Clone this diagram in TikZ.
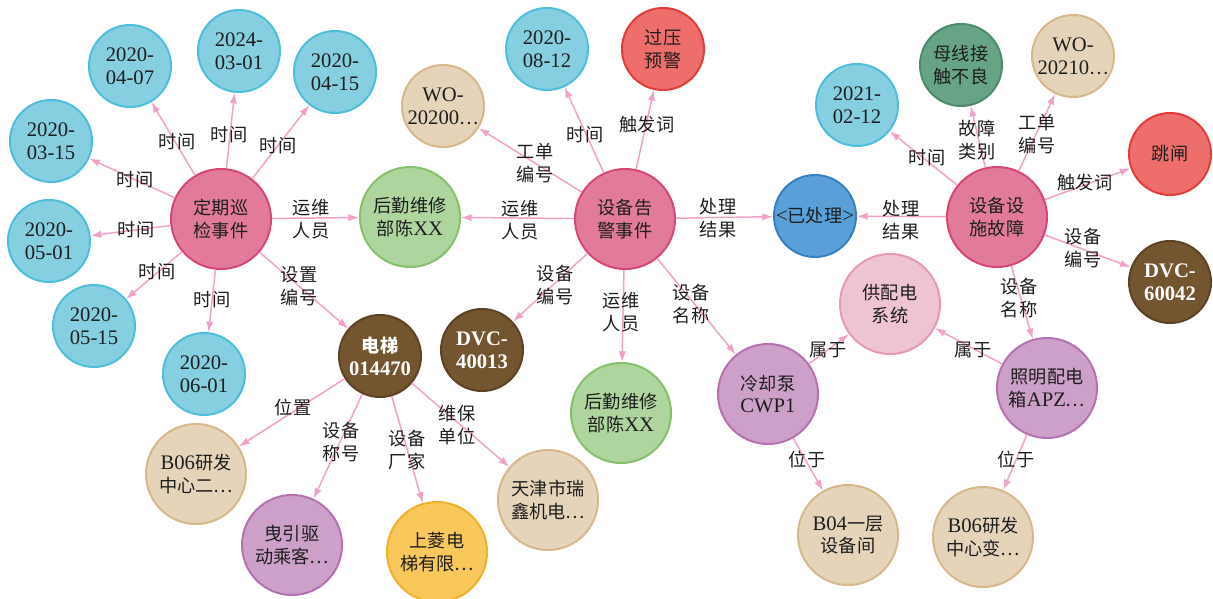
\documentclass[tikz,border=0pt]{standalone}
\usepackage{fontspec}
\setmainfont{Liberation Serif}
\newfontfamily\cjk[Scale=0.88]{Noto Sans CJK SC}
\usepackage{tikz}
\usetikzlibrary{arrows.meta}

\definecolor{evtfill}{RGB}{226,123,153}
\definecolor{evtline}{RGB}{214,70,118}
\definecolor{datefill}{RGB}{134,207,224}
\definecolor{dateline}{RGB}{78,190,218}
\definecolor{grnfill}{RGB}{174,213,158}
\definecolor{grnline}{RGB}{134,192,108}
\definecolor{tanfill}{RGB}{229,212,186}
\definecolor{tanline}{RGB}{214,184,138}
\definecolor{redfill}{RGB}{238,110,107}
\definecolor{redline}{RGB}{227,60,60}
\definecolor{brnfill}{RGB}{115,85,48}
\definecolor{brnline}{RGB}{94,66,36}
\definecolor{bluefill}{RGB}{90,160,216}
\definecolor{blueline}{RGB}{58,126,194}
\definecolor{purfill}{RGB}{204,160,200}
\definecolor{purline}{RGB}{182,114,176}
\definecolor{pnkfill}{RGB}{238,196,210}
\definecolor{pnkline}{RGB}{228,154,181}
\definecolor{mossfill}{RGB}{103,163,133}
\definecolor{mossline}{RGB}{76,139,108}
\definecolor{yelfill}{RGB}{249,200,90}
\definecolor{yelline}{RGB}{237,178,42}
\definecolor{linkcol}{RGB}{243,160,198}
\definecolor{txtcol}{RGB}{30,30,30}

\tikzset{
  ent/.style={circle, line width=1.5pt, minimum size=75pt, inner sep=0pt,
    align=center, text=txtcol, font=\fontsize{15.5}{17}\selectfont},
  sml/.style={ent, minimum size=61.5pt},
  evt/.style={ent, fill=evtfill, draw=evtline},
  date/.style={sml, fill=datefill, draw=dateline},
  grn/.style={ent, fill=grnfill, draw=grnline},
  tan/.style={ent, fill=tanfill, draw=tanline},
  tans/.style={sml, fill=tanfill, draw=tanline},
  reds/.style={sml, fill=redfill, draw=redline},
  brn/.style={sml, fill=brnfill, draw=brnline, text=white,
    font=\fontsize{15.5}{17}\selectfont\bfseries},
  blu/.style={sml, fill=bluefill, draw=blueline},
  pur/.style={ent, fill=purfill, draw=purline},
  pnk/.style={ent, fill=pnkfill, draw=pnkline},
  moss/.style={sml, fill=mossfill, draw=mossline},
  yel/.style={ent, fill=yelfill, draw=yelline},
  link/.style={draw=linkcol, line width=1.1pt, -{Latex[length=8pt,width=5.5pt]}},
  lbl/.style={inner sep=0pt, align=center, text=txtcol,
    font=\fontsize{15.5}{17}\selectfont}
}

\begin{document}
\begin{tikzpicture}[x=0.75pt,y=0.75pt,yscale=-1,xscale=1]
\useasboundingbox (0,0) rectangle (1213,599);

% left event
\node[evt] (dq) at (221,219) {{\cjk 定期巡}\\{\cjk 检事件}};
\node[date] (d0407) at (130,66) {2020-\\04-07};
\node[date] (d0301) at (239,51) {2024-\\03-01};
\node[date] (d0415) at (335,72) {2020-\\04-15};
\node[date] (d0315) at (51,141) {2020-\\03-15};
\node[date] (d0501) at (49,241) {2020-\\05-01};
\node[date] (d0515) at (94,326) {2020-\\05-15};
\node[date] (d0601) at (204,374) {2020-\\06-01};
\node[grn] (hq1) at (410,217) {{\cjk 后勤维修}\\{\cjk 部陈}XX};
\node[brn] (dt) at (380,356) {{\cjk 电梯}\\014470};
\node[tan] (b06a) at (196,474) {B06{\cjk 研发}\\{\cjk 中心二…}};
\node[pur] (yy) at (292,545) {{\cjk 曳引驱}\\{\cjk 动乘客…}};
\node[yel] (sl) at (437,552) {{\cjk 上菱电}\\{\cjk 梯有限…}};
\node[tan] (tj) at (548,500) {{\cjk 天津市瑞}\\{\cjk 鑫机电…}};

% middle event
\node[evt] (gj) at (625,219) {{\cjk 设备告}\\{\cjk 警事件}};
\node[brn] (dvc4) at (482,350) {DVC-\\40013};
\node[tans] (wo0) at (443,106) {WO-\\20200{\cjk …}};
\node[date] (d0812) at (547,49) {2020-\\08-12};
\node[reds] (gy) at (663,49) {{\cjk 过压}\\{\cjk 预警}};
\node[grn] (hq2) at (621,413) {{\cjk 后勤维修}\\{\cjk 部陈}XX};
\node[blu] (ycl) at (815,216) {<{\cjk 已处理}>};
\node[pur] (lq) at (768,394) {{\cjk 冷却泵}\\CWP1};
\node[pnk] (gpd) at (890,304) {{\cjk 供配电}\\{\cjk 系统}};
\node[tan] (b04) at (848,535) {B04{\cjk 一层}\\{\cjk 设备间}};

% right event
\node[evt] (gz) at (997,217) {{\cjk 设备设}\\{\cjk 施故障}};
\node[date] (d0212) at (857,105) {2021-\\02-12};
\node[moss] (mx) at (961,65) {{\cjk 母线接}\\{\cjk 触不良}};
\node[tans] (wo1) at (1073,56) {WO-\\20210{\cjk …}};
\node[reds] (tz) at (1170,154) {{\cjk 跳闸}};
\node[brn] (dvc6) at (1170,282) {DVC-\\60042};
\node[pur] (zm) at (1047,388) {{\cjk 照明配电}\\{\cjk 箱}APZ{\cjk …}};
\node[tan] (b06b) at (983,537) {B06{\cjk 研发}\\{\cjk 中心变…}};

% links
\draw[link] (dq) -- (d0407);
\draw[link] (dq) -- (d0301);
\draw[link] (dq) -- (d0415);
\draw[link] (dq) -- (d0315);
\draw[link] (dq) -- (d0501);
\draw[link] (dq) -- (d0515);
\draw[link] (dq) -- (d0601);
\draw[link] (dq) -- (hq1);
\draw[link] (dq) -- (dt);
\draw[link] (dt) -- (b06a);
\draw[link] (dt) -- (yy);
\draw[link] (dt) -- (sl);
\draw[link] (dt) -- (tj);
\draw[link] (gj) -- (wo0);
\draw[link] (gj) -- (d0812);
\draw[link] (gj) -- (gy);
\draw[link] (gj) -- (hq1);
\draw[link] (gj) -- (ycl);
\draw[link] (gj) -- (dvc4);
\draw[link] (gj) -- (hq2);
\draw[link] (gj) -- (lq);
\draw[link] (lq) -- (gpd);
\draw[link] (lq) -- (b04);
\draw[link] (gz) -- (d0212);
\draw[link] (gz) -- (mx);
\draw[link] (gz) -- (wo1);
\draw[link] (gz) -- (tz);
\draw[link] (gz) -- (ycl);
\draw[link] (gz) -- (dvc6);
\draw[link] (gz) -- (zm);
\draw[link] (zm) -- (gpd);
\draw[link] (zm) -- (b06b);

% labels
\node[lbl] (l1) at (177,142) {\cjk 时间};
\node[lbl] (l2) at (229,135) {\cjk 时间};
\node[lbl] (l3) at (278,146) {\cjk 时间};
\node[lbl] (l4) at (135,180) {\cjk 时间};
\node[lbl] (l5) at (136,230) {\cjk 时间};
\node[lbl] (l6) at (157,272) {\cjk 时间};
\node[lbl] (l7) at (212,300) {\cjk 时间};
\node[lbl] (l8) at (311,219) {\cjk 运维\\\cjk 人员};
\node[lbl] (l9) at (299,286) {\cjk 设置\\\cjk 编号};
\node[lbl] (l10) at (293,408) {\cjk 位置};
\node[lbl] (l11) at (341,442) {\cjk 设备\\\cjk 称号};
\node[lbl] (l12) at (407,450) {\cjk 设备\\\cjk 厂家};
\node[lbl] (l13) at (457,425) {\cjk 维保\\\cjk 单位};
\node[lbl] (l14) at (535,163) {\cjk 工单\\\cjk 编号};
\node[lbl] (l15) at (585,135) {\cjk 时间};
\node[lbl] (l16) at (647,125) {\cjk 触发词};
\node[lbl] (l17) at (520,220) {\cjk 运维\\\cjk 人员};
\node[lbl] (l18) at (718,218) {\cjk 处理\\\cjk 结果};
\node[lbl] (l19) at (555,285) {\cjk 设备\\\cjk 编号};
\node[lbl] (l20) at (621,312) {\cjk 运维\\\cjk 人员};
\node[lbl] (l21) at (691,304) {\cjk 设备\\\cjk 名称};
\node[lbl] (l22) at (828,350) {\cjk 属于};
\node[lbl] (l23) at (807,460) {\cjk 位于};
\node[lbl] (l24) at (927,158) {\cjk 时间};
\node[lbl] (l25) at (977,140) {\cjk 故障\\\cjk 类别};
\node[lbl] (l26) at (1037,134) {\cjk 工单\\\cjk 编号};
\node[lbl] (l27) at (1085,183) {\cjk 触发词};
\node[lbl] (l28) at (901,220) {\cjk 处理\\\cjk 结果};
\node[lbl] (l29) at (1083,248) {\cjk 设备\\\cjk 编号};
\node[lbl] (l30) at (1019,298) {\cjk 设备\\\cjk 名称};
\node[lbl] (l31) at (973,350) {\cjk 属于};
\node[lbl] (l32) at (1016,460) {\cjk 位于};

\end{tikzpicture}
\end{document}
